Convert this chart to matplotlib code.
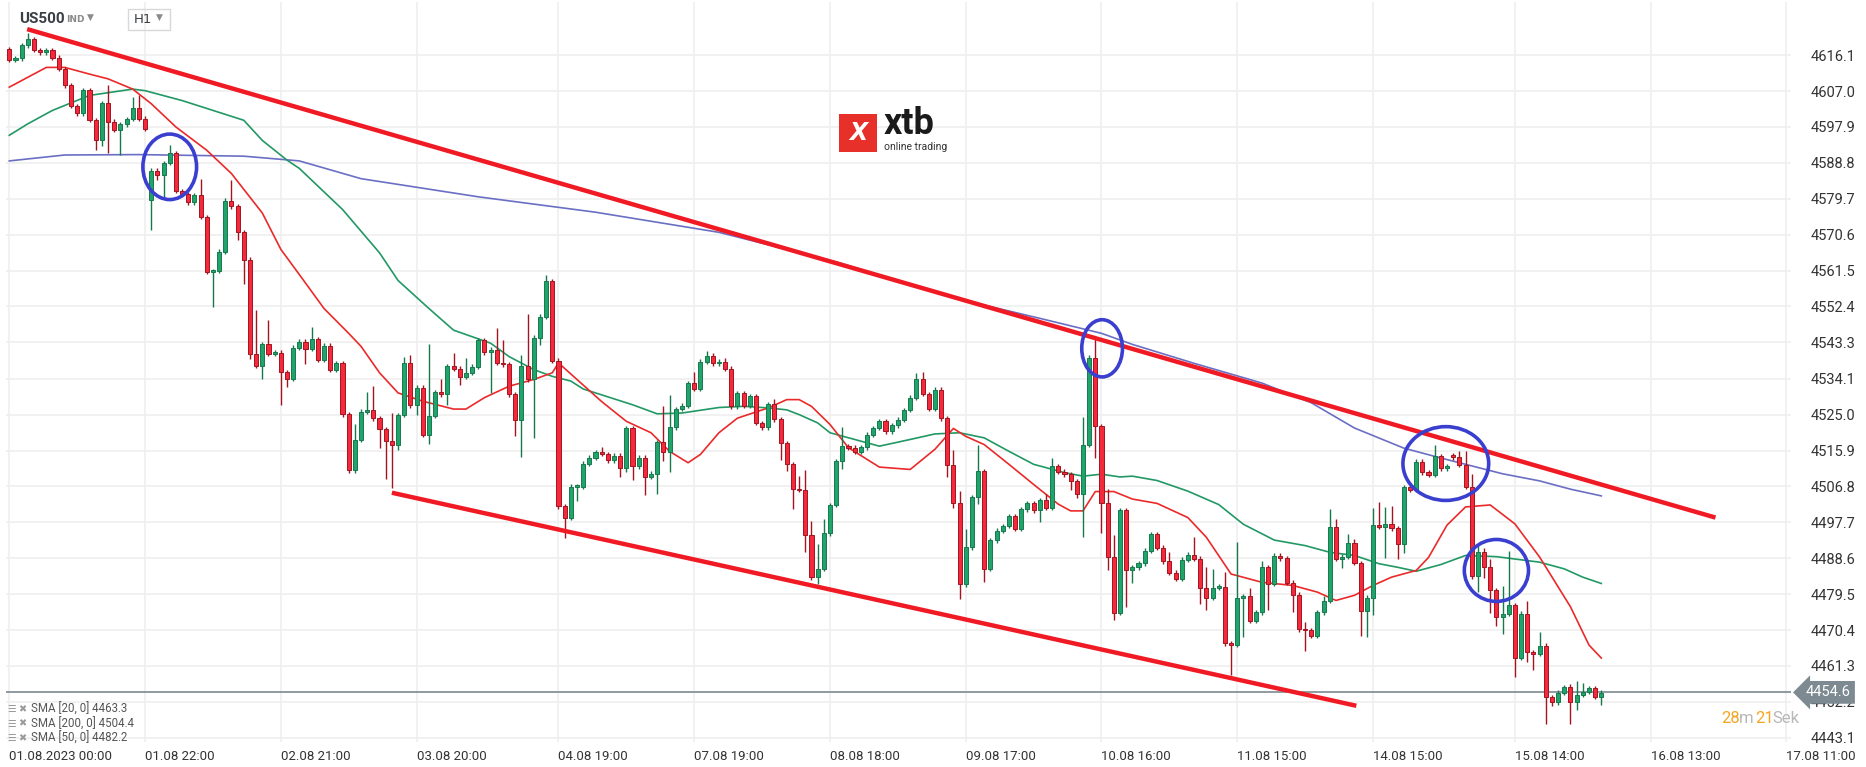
import matplotlib
matplotlib.use('Agg')
import matplotlib.pyplot as plt
from matplotlib.patches import Ellipse, Rectangle
import numpy as np

# ---- data (hourly candles, index 0 = 01.08 00:00) ----
closes = [
    4614.9, 4615.3, 4618.6, 4620.1, 4617.4, 4616.8, 4617.3, 4615.5, 4612.6, 4608.5,
    4603.2, 4601.4, 4607.3, 4599.7, 4594.7, 4604.0, 4599.2, 4597.2, 4598.6, 4599.9,
    4602.8, 4600.0, 4597.5, 4586.8, 4585.7, 4588.8, 4591.2, 4581.7, 4580.9, 4578.8,
    4580.6, 4575.1, 4561.2, 4561.4, 4566.3, 4579.2, 4577.8, 4571.3, 4564.3, 4540.4,
    4537.3, 4542.9, 4540.4, 4540.7, 4535.8, 4534.1, 4542.0, 4543.5, 4541.7, 4544.1,
    4538.9, 4542.5, 4536.4, 4538.0, 4525.1, 4510.9, 4518.6, 4525.7, 4526.1, 4524.1,
    4521.3, 4518.4, 4517.2, 4524.9, 4538.0, 4527.4, 4531.8, 4519.9, 4524.7, 4530.7,
    4530.1, 4537.2, 4536.6, 4534.6, 4535.6, 4537.1, 4543.8, 4540.8, 4541.5, 4538.2,
    4537.7, 4530.1, 4523.6, 4537.2, 4533.9, 4544.5, 4549.8, 4558.8, 4538.7, 4501.8,
    4498.8, 4506.7, 4506.7, 4512.6, 4514.1, 4515.5, 4515.0, 4513.4, 4514.6, 4511.4,
    4521.6, 4511.9, 4514.1, 4509.2, 4510.0, 4518.0, 4515.5, 4521.8, 4526.4, 4527.3,
    4532.9, 4531.5, 4538.4, 4539.9, 4538.0, 4538.4, 4536.6, 4527.1, 4530.4, 4527.3,
    4529.6, 4522.9, 4521.8, 4527.7, 4523.8, 4517.7, 4512.4, 4506.1, 4505.9, 4494.5,
    4483.8, 4485.9, 4494.9, 4502.1, 4513.2, 4517.0, 4516.6, 4515.6, 4516.7, 4519.9,
    4521.6, 4523.3, 4520.8, 4522.3, 4523.7, 4526.2, 4529.3, 4534.1, 4530.2, 4526.5,
    4531.3, 4524.1, 4512.2, 4502.5, 4482.0, 4491.4, 4504.1, 4510.7, 4485.9, 4493.1,
    4495.6, 4496.8, 4499.3, 4496.0, 4501.0, 4502.6, 4500.7, 4503.3, 4501.3, 4511.9,
    4510.5, 4509.9, 4508.2, 4504.8, 4517.4, 4539.4, 4522.0, 4502.5, 4488.8, 4474.8,
    4500.8, 4485.7, 4486.3, 4487.3, 4490.5, 4494.7, 4491.3, 4487.8, 4484.9, 4483.4,
    4488.2, 4489.5, 4488.5, 4481.1, 4478.6, 4481.1, 4481.4, 4467.0, 4466.6, 4478.4,
    4479.0, 4472.7, 4474.9, 4486.3, 4482.1, 4489.2, 4488.6, 4482.4, 4479.4, 4470.6,
    4470.4, 4468.9, 4474.9, 4477.8, 4496.5, 4488.4, 4489.0, 4492.4, 4487.4, 4475.2,
    4478.6, 4497.0, 4496.5, 4497.4, 4496.2, 4492.2, 4506.6, 4505.9, 4513.1, 4510.4,
    4509.8, 4514.4, 4511.4, 4512.0, 4514.2, 4512.2, 4506.7, 4484.0, 4490.3, 4486.3,
    4480.5, 4473.8, 4474.5, 4476.7, 4463.4, 4474.5, 4464.8, 4464.4, 4466.4, 4453.3,
    4452.1, 4454.5, 4455.9, 4452.2, 4454.0, 4454.7, 4455.7, 4453.4, 4454.5,
]
# opens are the previous close except where the chart shows a gap
open_overrides = {0: 4617.6, 23: 4579.3, 234: 4514.7}

high_marks = {
    3: 4621.6, 16: 4608.5, 20: 4605.6, 21: 4606.1, 26: 4593.3, 31: 4584.6, 36: 4584.4,
    40: 4551.4, 42: 4548.9, 49: 4547.3, 56: 4522.6, 58: 4530.8, 59: 4532.2, 62: 4525.3,
    64: 4539.7, 65: 4540.2, 67: 4532.6, 68: 4542.8, 70: 4534.1, 72: 4540.6, 74: 4539.3,
    79: 4546.9, 80: 4543.9, 83: 4540.2, 84: 4550.4, 87: 4560.4, 96: 4516.8, 106: 4527.3,
    107: 4529.9, 111: 4535.7, 113: 4541.2, 116: 4539.4, 124: 4528.9, 128: 4509.4,
    129: 4510.9, 130: 4498.1, 131: 4492.2, 132: 4498.5, 135: 4521.8, 147: 4535.5,
    148: 4535.7, 153: 4516.1, 154: 4505.7, 155: 4495.9, 157: 4517.2, 168: 4504.9,
    169: 4514.1, 174: 4524.3, 176: 4544.5, 178: 4506.1, 179: 4494.6, 181: 4501.1,
    188: 4490.1, 192: 4493.9, 194: 4486.3, 195: 4485.9, 197: 4485.0, 199: 4492.6,
    201: 4481.1, 203: 4488.0, 210: 4472.5, 213: 4479.1, 214: 4501.0, 215: 4498.6,
    217: 4494.7, 218: 4493.4, 220: 4478.3, 221: 4501.4, 222: 4502.9, 223: 4501.6,
    224: 4501.8, 231: 4517.4, 235: 4515.7, 236: 4515.7, 237: 4509.9, 238: 4491.8,
    239: 4491.2, 240: 4488.4, 242: 4481.5, 243: 4490.4, 246: 4477.8, 248: 4470.0,
    253: 4456.6, 254: 4457.4, 255: 4457.1,
}
low_marks = {
    14: 4592.0, 15: 4593.0, 16: 4591.3, 18: 4590.8, 23: 4571.7, 24: 4584.4, 25: 4580.0,
    33: 4552.2, 37: 4569.3, 38: 4558.0, 39: 4539.2, 41: 4534.1, 44: 4527.4, 45: 4532.0,
    48: 4537.8, 55: 4510.5, 60: 4516.6, 61: 4508.8, 62: 4506.3, 63: 4516.0, 66: 4524.9,
    68: 4517.6, 71: 4527.4, 73: 4532.6, 78: 4530.5, 82: 4519.7, 83: 4514.2, 85: 4519.1,
    86: 4542.7, 90: 4493.7, 92: 4503.1, 99: 4509.2, 100: 4510.5, 101: 4508.3, 103: 4504.6,
    105: 4504.8, 106: 4513.2, 107: 4510.4, 125: 4513.4, 126: 4510.7, 127: 4501.0,
    129: 4490.1, 130: 4483.4, 131: 4482.1, 135: 4511.1, 152: 4509.2, 153: 4501.3,
    154: 4478.3, 157: 4502.3, 158: 4482.5, 167: 4497.7, 172: 4505.8, 173: 4503.8,
    174: 4493.9, 176: 4514.1, 177: 4494.9, 178: 4485.5, 179: 4473.0, 180: 4474.1,
    181: 4476.3, 182: 4482.3, 193: 4477.1, 194: 4475.6, 195: 4477.9, 198: 4459.1,
    199: 4466.5, 200: 4468.7, 203: 4474.8, 204: 4475.4, 208: 4475.0, 210: 4465.0,
    216: 4486.1, 219: 4469.0, 220: 4468.7, 221: 4474.3, 223: 4488.7, 225: 4488.4,
    226: 4489.8, 238: 4480.0, 239: 4483.7, 240: 4474.8, 241: 4471.4, 242: 4469.5,
    244: 4458.5, 246: 4462.2, 247: 4460.3, 249: 4446.7, 250: 4451.2, 253: 4446.6,
    254: 4450.2, 258: 4451.4,
}

# moving averages (candle index, price)
sma20_idx = [0, 6, 9, 13, 16, 20, 23, 27, 32, 36, 41, 44, 47, 51, 55, 57, 60, 63, 67, 72,
             74, 77, 81, 85, 88, 89, 93, 96, 100, 104, 107, 110, 112, 115, 118, 123, 126,
             128, 130, 133, 136, 141, 146, 150, 153, 155, 158, 162, 166, 170, 172, 174,
             176, 179, 182, 186, 191, 194, 198, 203, 208, 212, 215, 218, 221, 224, 228,
             230, 233, 236, 240, 244, 248, 253, 256, 258]
sma20_val = [4608.0, 4613.0, 4613.0, 4611.3, 4610.1, 4607.5, 4603.8, 4597.9, 4592.0, 4586.1,
             4576.1, 4566.9, 4560.5, 4551.9, 4545.6, 4542.3, 4535.6, 4530.5, 4528.4, 4526.4,
             4526.4, 4529.3, 4532.2, 4533.9, 4535.6, 4538.1, 4532.5, 4528.3, 4523.3, 4520.4,
             4515.7, 4512.8, 4514.9, 4520.4, 4524.1, 4526.7, 4528.8, 4528.8, 4527.1, 4522.5,
             4516.6, 4511.7, 4511.1, 4516.2, 4521.5, 4519.5, 4517.4, 4512.4, 4507.3, 4502.3,
             4500.6, 4500.6, 4505.5, 4505.5, 4503.6, 4502.5, 4498.9, 4493.9, 4484.6, 4482.5,
             4481.7, 4480.0, 4477.9, 4479.2, 4481.7, 4483.8, 4485.5, 4488.8, 4497.0, 4501.6,
             4502.1, 4497.3, 4488.9, 4476.3, 4466.6, 4463.3]
sma50_idx = [0, 3, 7, 13, 20, 22, 28, 33, 38, 41, 45, 47, 54, 60, 63, 68, 72, 78, 81, 85,
             88, 91, 93, 96, 101, 105, 109, 115, 119, 123, 126, 128, 131, 133, 137, 141,
             146, 150, 154, 158, 162, 166, 171, 174, 177, 180, 182, 186, 191, 196, 200,
             205, 210, 214, 218, 222, 225, 228, 232, 236, 241, 244, 248, 252, 255, 258]
sma50_val = [4595.8, 4598.7, 4602.1, 4605.9, 4607.5, 4607.1, 4604.6, 4602.1, 4599.6, 4594.5,
             4589.5, 4587.4, 4577.0, 4566.0, 4559.0, 4551.9, 4546.4, 4543.1, 4539.7, 4536.4,
             4534.7, 4533.5, 4531.5, 4530.0, 4527.5, 4525.2, 4525.4, 4526.8, 4527.1, 4526.7,
             4526.2, 4525.0, 4522.9, 4520.4, 4518.7, 4517.0, 4518.7, 4520.1, 4520.4, 4519.1,
             4515.7, 4512.4, 4510.3, 4509.4, 4509.9, 4509.2, 4509.4, 4508.3, 4505.6, 4502.2,
             4497.2, 4493.2, 4491.8, 4490.1, 4489.3, 4487.2, 4486.3, 4485.3, 4487.0, 4489.3,
             4489.0, 4488.4, 4487.6, 4485.9, 4483.8, 4482.2]
sma200_idx = [0, 9, 21, 38, 47, 57, 76, 95, 115, 134, 153, 167, 177, 182, 192, 203, 211,
              218, 226, 232, 236, 242, 248, 253, 258]
sma200_val = [4589.3, 4590.8, 4590.9, 4590.5, 4589.3, 4584.8, 4580.2, 4576.3, 4571.2, 4563.7,
              4554.6, 4549.4, 4545.6, 4542.8, 4538.0, 4533.0, 4528.0, 4521.6, 4516.5, 4514.0,
              4512.4, 4510.0, 4508.2, 4506.1, 4504.4]

# channel lines drawn on the chart (candle index, price)
upper_channel = ([2.9, 276.5], [4622.7, 4498.9])
lower_channel = ([62.0, 218.3], [4505.2, 4451.2])
# hand-drawn circles: centre index, centre price, width (candles), height (points)
circles = [(26.0, 4587.8, 8.7, 16.6), (177.1, 4541.8, 6.6, 14.5),
           (232.8, 4512.6, 13.9, 18.7), (241.0, 4485.5, 10.4, 15.7)]

y_ticks = [4616.1, 4607.0, 4597.9, 4588.8, 4579.7, 4570.6, 4561.5, 4552.4, 4543.3, 4534.1,
           4525.0, 4515.9, 4506.8, 4497.7, 4488.6, 4479.5, 4470.4, 4461.3, 4452.2, 4443.1]
x_tick_idx = [0, 22, 44, 66, 89, 111, 133, 155, 177, 199, 221, 244, 266, 288]
x_tick_labels = ['01.08.2023 00:00', '01.08 22:00', '02.08 21:00', '03.08 20:00',
                 '04.08 19:00', '07.08 19:00', '08.08 18:00', '09.08 17:00',
                 '10.08 16:00', '11.08 15:00', '14.08 15:00', '15.08 14:00',
                 '16.08 13:00', '17.08 11:00']
last_price = 4454.6
legend_rows = ['SMA [20, 0] 4463.3', 'SMA [200, 0] 4504.4', 'SMA [50, 0] 4482.2']

# ---- derived candle arrays ----
closes = np.array(closes)
opens = np.concatenate([[closes[0]], closes[:-1]])
for k, v in open_overrides.items():
    opens[k] = v
body_top = np.maximum(opens, closes)
body_bot = np.minimum(opens, closes)
highs = body_top + 0.6
lows = body_bot - 0.6
for k, v in high_marks.items():
    highs[k] = max(highs[k], v)
for k, v in low_marks.items():
    lows[k] = min(lows[k], v)
up = closes >= opens
x = np.arange(len(closes))

GREEN, GREEN_D = '#21a46c', '#16794d'
RED, RED_D = '#f42a3c', '#a3141f'

fig = plt.figure(figsize=(18.66, 7.67), dpi=100)
ax = fig.add_axes([0.003, 0.033, 0.957, 0.964])
ax.set_xlim(-0.6, 288.8)
ax.set_ylim(4442.1, 4629.5)

for s in ax.spines.values():
    s.set_visible(False)
ax.set_yticks(y_ticks)
ax.set_xticks(x_tick_idx)
ax.grid(True, color='#efefef', linewidth=1.2)
ax.set_axisbelow(True)
ax.yaxis.tick_right()
ax.tick_params(axis='y', length=0, pad=14, labelsize=10.5, labelcolor='#333333')
ax.tick_params(axis='x', length=0, pad=6, labelsize=9.5, labelcolor='#333333')
ax.set_yticklabels([f'{v:.1f}' for v in y_ticks], family=['Roboto', 'DejaVu Sans'])
ax.set_xticklabels(x_tick_labels, ha='left', family=['Roboto', 'DejaVu Sans'])

# moving averages
ax.plot(sma200_idx, sma200_val, color='#6a6fc4', lw=1.2, zorder=2)
ax.plot(sma50_idx, sma50_val, color='#229865', lw=1.2, zorder=2)
ax.plot(sma20_idx, sma20_val, color='#ea2a2a', lw=1.2, zorder=2)

# candles
ax.vlines(x[up], lows[up], highs[up], color=GREEN_D, lw=1.0, zorder=3)
ax.vlines(x[~up], lows[~up], highs[~up], color=RED_D, lw=1.0, zorder=3)
h = np.maximum(body_top - body_bot, 0.35)
ax.bar(x[up], h[up], bottom=body_bot[up], width=0.66, color=GREEN,
       edgecolor=GREEN_D, linewidth=0.7, zorder=4)
ax.bar(x[~up], h[~up], bottom=body_bot[~up], width=0.66, color=RED,
       edgecolor=RED_D, linewidth=0.7, zorder=4)

# channel lines
ax.plot(*upper_channel, color='#f01a24', lw=3.2, zorder=5, solid_capstyle='butt')
ax.plot(*lower_channel, color='#f01a24', lw=3.2, zorder=5, solid_capstyle='butt')

# circles
for cx, cy, w, hh in circles:
    ax.add_patch(Ellipse((cx, cy), w, hh, fill=False, edgecolor='#3a3fd0', lw=2.6, zorder=6))

# current price line and tag
ax.axhline(last_price, color='#7d8a91', lw=1.2, zorder=1)
ax.annotate(f'{last_price:.1f}', xy=(1.0, last_price), xycoords=('axes fraction', 'data'),
            xytext=(1.008, last_price), textcoords=('axes fraction', 'data'),
            ha='left', va='center', fontsize=10.5, color='white', family='Roboto',
            bbox=dict(boxstyle='larrow,pad=0.3', fc='#7d8a91', ec='none'), zorder=7,
            annotation_clip=False)

# countdown
fig.text(0.9225, 0.058, '28', color='#f5a623', fontsize=12, family='Roboto')
fig.text(0.9317, 0.058, 'm', color='#b8b8b8', fontsize=12, family='Roboto')
fig.text(0.9405, 0.058, '21', color='#f5a623', fontsize=12, family='Roboto')
fig.text(0.9497, 0.058, 'Sek', color='#b8b8b8', fontsize=12, family='Roboto')

# SMA legend bottom-left
for row, label in enumerate(legend_rows):
    yy = 0.075 - row * 0.0185
    fig.text(0.004, yy, '\u2630', color='#9a9a9a', fontsize=7, va='center')
    fig.text(0.010, yy, '\u2716', color='#9a9a9a', fontsize=7, va='center')
    fig.text(0.0165, yy, label, color='#555555', fontsize=8.3, va='center',
             family=['Roboto', 'DejaVu Sans'])

# header
fig.text(0.0105, 0.975, 'US500', fontsize=11, weight='bold', color='#3a3f44',
         family='Roboto', va='center')
fig.text(0.0355, 0.975, 'IND', fontsize=6.5, weight='bold', color='#8a8a8a', va='center')
fig.text(0.0465, 0.977, '\u25BC', fontsize=6.5, color='#8a8a8a', va='center')
fig.add_artist(Rectangle((0.0685, 0.961), 0.0225, 0.027, transform=fig.transFigure,
                         fill=False, edgecolor='#d8d8d8', lw=1))
fig.text(0.0715, 0.974, 'H1', fontsize=9.5, color='#3a3f44', va='center')
fig.text(0.0835, 0.977, '\u25BC', fontsize=6.5, color='#8a8a8a', va='center')

# xtb logo
fig.add_artist(Rectangle((0.4497, 0.8018), 0.0204, 0.0495, transform=fig.transFigure,
                         color='#e8302a', lw=0))
fig.text(0.4599, 0.8265, 'X', fontsize=17, weight='bold', style='italic', color='white',
         ha='center', va='center')
fig.text(0.4735, 0.838, 'xtb', fontsize=26, weight='bold', color='#1a1a1a', va='center',
         family='Roboto')
fig.text(0.4738, 0.808, 'online trading', fontsize=7.5, color='#333333', va='center',
         family='Roboto')

fig.savefig('out.png', dpi=100, facecolor='white')
